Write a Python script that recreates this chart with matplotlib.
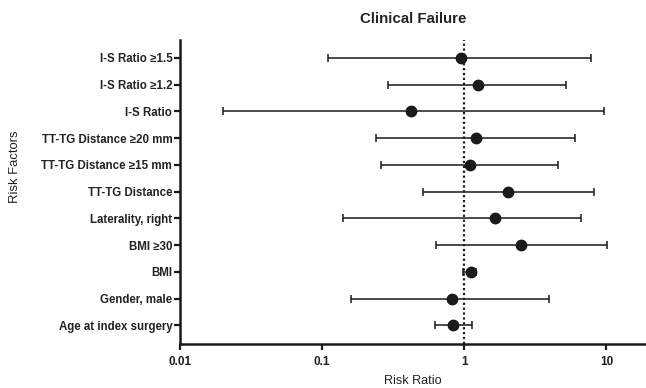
import matplotlib
matplotlib.use("Agg")
import matplotlib.pyplot as plt
import numpy as np

factors = ["I-S Ratio \u22651.5", "I-S Ratio \u22651.2", "I-S Ratio",
           "TT-TG Distance \u226520 mm", "TT-TG Distance \u226515 mm", "TT-TG Distance",
           "Laterality, right", "BMI \u226530", "BMI", "Gender, male", "Age at index surgery"]
rr = [0.95, 1.24, 0.42, 1.21, 1.09, 2.04, 1.65, 2.52, 1.11, 0.82, 0.84]
ci_low = [0.11, 0.29, 0.02, 0.24, 0.26, 0.51, 0.14, 0.63, 0.98, 0.16, 0.625]
ci_high = [7.8, 5.2, 9.6, 6.05, 4.54, 8.2, 6.67, 10.1, 1.2, 3.95, 1.13]
xticks = [0.01, 0.1, 1, 10]
xticklabels = ["0.01", "0.1", "1", "10"]

plt.rcParams['font.family'] = ['Liberation Sans', 'DejaVu Sans']

fig = plt.figure(figsize=(6.46, 3.88), dpi=100)
ax = fig.add_axes([180/646, 1-344/388, 466/646, 304/388])

y = np.arange(1, len(factors)+1)
rr_a = np.array(rr); lo = np.array(ci_low); hi = np.array(ci_high)
ax.axvline(1, color='#1a1a1a', linestyle=(0, (1, 1.2)), linewidth=1.6, zorder=1)
ax.errorbar(rr_a, y, xerr=[rr_a-lo, hi-rr_a], fmt='o', color='#1a1a1a',
            ecolor='#1a1a1a', elinewidth=1.1, capsize=2.6, capthick=1.1,
            markersize=7.5, zorder=3)

ax.set_xscale('log')
ax.set_xlim(0.01, 19)
ax.set_ylim(11.7, 0.33)
ax.set_yticks(y)
ax.set_yticklabels(factors, fontsize=8.3, fontweight='bold', color='#222222')
ax.set_xticks(xticks)
ax.set_xticklabels(xticklabels, fontsize=8.5, fontweight='bold', color='#222222')
ax.xaxis.set_minor_locator(matplotlib.ticker.NullLocator())
ax.tick_params(axis='y', which='major', length=4.5, width=1.6, color='#1a1a1a', pad=1)
ax.tick_params(axis='x', which='major', length=4.5, width=1.6, color='#1a1a1a', pad=4)
for s in ['top', 'right']:
    ax.spines[s].set_visible(False)
for s in ['left', 'bottom']:
    ax.spines[s].set_linewidth(1.8)
    ax.spines[s].set_color('#1a1a1a')

ax.set_xlabel("Risk Ratio", fontsize=9.1, color='#222222', labelpad=5)
ax.set_ylabel("Risk Factors", fontsize=9.4, color='#222222')
ax.yaxis.set_label_coords(-0.354, 0.582)
ax.yaxis.label.set_va('center')
ax.set_title("Clinical Failure", fontsize=10.8, fontweight='bold', color='#222222', pad=12)

fig.savefig("out.png", dpi=100)
